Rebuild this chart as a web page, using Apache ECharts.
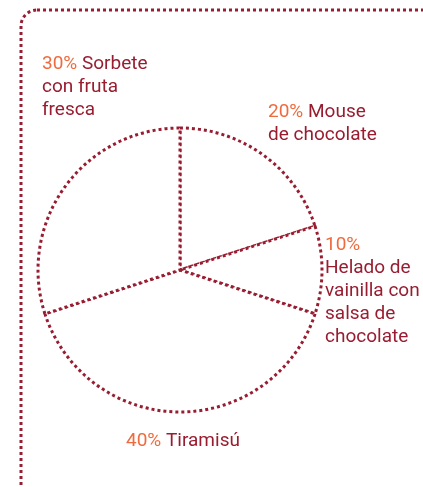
<!DOCTYPE html>
<html>
<head>
<meta charset="utf-8">
<script src="https://cdn.jsdelivr.net/npm/echarts@6/dist/echarts.min.js"></script>
<style>
  html, body { margin: 0; padding: 0; background: #fff; }
  #chart { width: 423px; height: 487px; }
</style>
</head>
<body>
<div id="chart"></div>
<script>
// postres preferidos
const categories = ['Mouse\nde chocolate', 'Helado de\nvainilla con\nsalsa de\nchocolate', 'Tiramisú', 'Sorbete\ncon fruta\nfresca'];
const values = [20, 10, 40, 30];
// donde va cada etiqueta (esquina superior izquierda) y si el % va en su propia linea
const labelSpots = [[268, 101], [325, 234], [126, 430], [42, 53]];
const pctOwnLine = [false, true, false, false];

const RED = '#981d30';
const ORANGE = '#ef6b3e';

const chart = echarts.init(document.getElementById('chart'));

const option = {
    animation: false,
    backgroundColor: '#fff',
    graphic: [
        {
            type: 'rect',
            shape: { x: 21, y: 10, width: 420, height: 520, r: 16 },
            style: {
                fill: 'none',
                stroke: RED,
                lineWidth: 3,
                lineDash: [3, 3]
            }
        }
    ],
    series: [
        {
            type: 'pie',
            center: [180, 270],
            radius: 142,
            startAngle: 90,
            clockwise: true,
            silent: true,
            data: categories.map((name, i) => ({ name: name, value: values[i] })),
            itemStyle: {
                color: '#fff',
                borderColor: RED,
                borderWidth: 3,
                borderType: [3, 3]
            },
            labelLine: { show: false },
            label: {
                show: true,
                position: 'outside',
                overflow: 'none',
                fontFamily: 'Roboto',
                fontSize: 19,
                lineHeight: 23,
                color: RED,
                align: 'left',
                formatter: function (p) {
                    const sep = pctOwnLine[p.dataIndex] ? '\n' : ' ';
                    return '{p|' + p.value + '%}' + sep + p.name;
                },
                rich: {
                    p: { color: ORANGE, fontFamily: 'Roboto', fontSize: 19, lineHeight: 23 }
                }
            },
            labelLayout: function (params) {
                const spot = labelSpots[params.dataIndex];
                return {
                    x: spot[0],
                    y: spot[1],
                    align: 'left',
                    verticalAlign: 'top'
                };
            }
        }
    ]
};

chart.setOption(option);
</script>
</body>
</html>
